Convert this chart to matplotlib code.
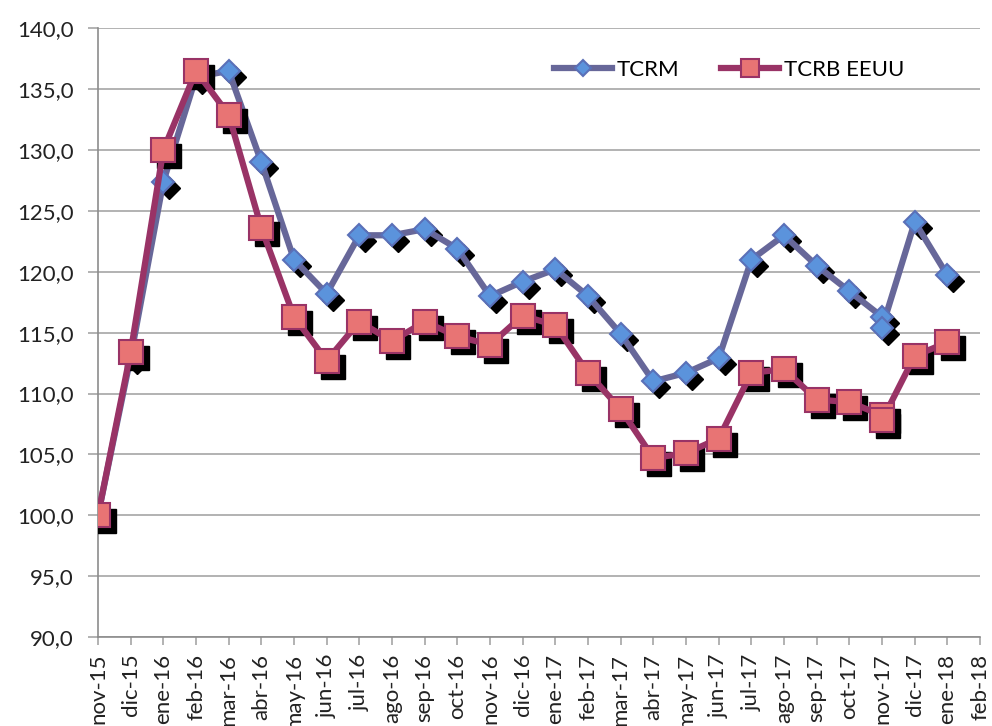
import matplotlib
matplotlib.use('Agg')
import matplotlib.pyplot as plt
from matplotlib.transforms import offset_copy

plt.rcParams['font.family'] = ['Lato', 'DejaVu Sans']

# Categorias del eje x (meses)
cats = ['nov-15', 'dic-15', 'ene-16', 'feb-16', 'mar-16', 'abr-16', 'may-16',
        'jun-16', 'jul-16', 'ago-16', 'sep-16', 'oct-16', 'nov-16', 'dic-16',
        'ene-17', 'feb-17', 'mar-17', 'abr-17', 'may-17', 'jun-17', 'jul-17',
        'ago-17', 'sep-17', 'oct-17', 'nov-17', 'dic-17', 'ene-18', 'feb-18']

# Fecha de cada observacion (nov-17 aparece dos veces)
fechas = ['nov-15', 'dic-15', 'ene-16', 'feb-16', 'mar-16', 'abr-16', 'may-16',
          'jun-16', 'jul-16', 'ago-16', 'sep-16', 'oct-16', 'nov-16', 'dic-16',
          'ene-17', 'feb-17', 'mar-17', 'abr-17', 'may-17', 'jun-17', 'jul-17',
          'ago-17', 'sep-17', 'oct-17', 'nov-17', 'nov-17', 'dic-17', 'ene-18']

tcrm = [100.0, 113.0, 127.4, 136.0, 136.5, 129.0, 121.0, 118.2, 123.0, 123.0,
        123.5, 121.9, 118.0, 119.2, 120.2, 118.0, 114.9, 111.0, 111.7, 112.9,
        121.0, 123.0, 120.5, 118.4, 116.3, 115.4, 124.1, 119.7]

tcrb = [100.0, 113.4, 130.0, 136.5, 132.9, 123.6, 116.3, 112.7, 115.9, 114.3,
        115.9, 114.7, 114.0, 116.4, 115.6, 111.7, 108.7, 104.7, 105.1, 106.3,
        111.7, 112.0, 109.5, 109.3, 108.2, 107.8, 113.1, 114.2]

x = [cats.index(f) for f in fechas]

fig = plt.figure(figsize=(9.92, 7.26), dpi=100)
ax = fig.add_axes([0.0988, 0.1226, 0.8892, 0.8384])

shadow = offset_copy(ax.transData, fig=fig, x=6, y=-6, units='dots')

series = [
    (tcrm, 'TCRM', '#676799', 'D', 11.5, '#5b93dc', '#5a70b8'),
    (tcrb, 'TCRB EEUU', '#993366', 's', 17, '#e87474', '#993366'),
]
z = 3
for vals, name, lc, mk, ms, fc, ec in series:
    ax.plot(x, vals, ls='none', marker=mk, ms=ms, mfc='black', mec='black',
            transform=shadow, zorder=z)
    ax.plot(x, vals, color=lc, lw=4.5, marker=mk, ms=ms, mfc=fc, mec=ec,
            mew=1.5, label=name, zorder=z + 1, solid_joinstyle='round')
    z += 2

ax.set_xlim(0, len(cats) - 1)
ax.set_ylim(90, 140)
ax.set_xticks(range(len(cats)))
ax.set_xticklabels(cats, rotation=90, fontsize=16)
ax.set_yticks(range(90, 141, 5))
ax.set_yticklabels([f'{v},0' for v in range(90, 141, 5)], fontsize=16)

ax.grid(axis='y', color='#a6a6a6', lw=1.2)
ax.set_axisbelow(True)
for s in ['top', 'right']:
    ax.spines[s].set_visible(False)
for s in ['left', 'bottom']:
    ax.spines[s].set_color('#8c8c8c')
    ax.spines[s].set_linewidth(1.2)
ax.tick_params(axis='y', length=7, width=1.2, color='#a6a6a6', pad=10.5, labelcolor='#222222')
ax.tick_params(axis='x', length=6, width=1.2, color='#a6a6a6', pad=6, labelcolor='#222222')

ax.legend(loc='center', bbox_to_anchor=(0.735, 0.904), bbox_transform=fig.transFigure,
          ncol=2, frameon=False, fontsize=16, handlelength=2.6,
          columnspacing=1.9, handletextpad=0.22, markerscale=0.75)

plt.savefig('out.png', dpi=100)
